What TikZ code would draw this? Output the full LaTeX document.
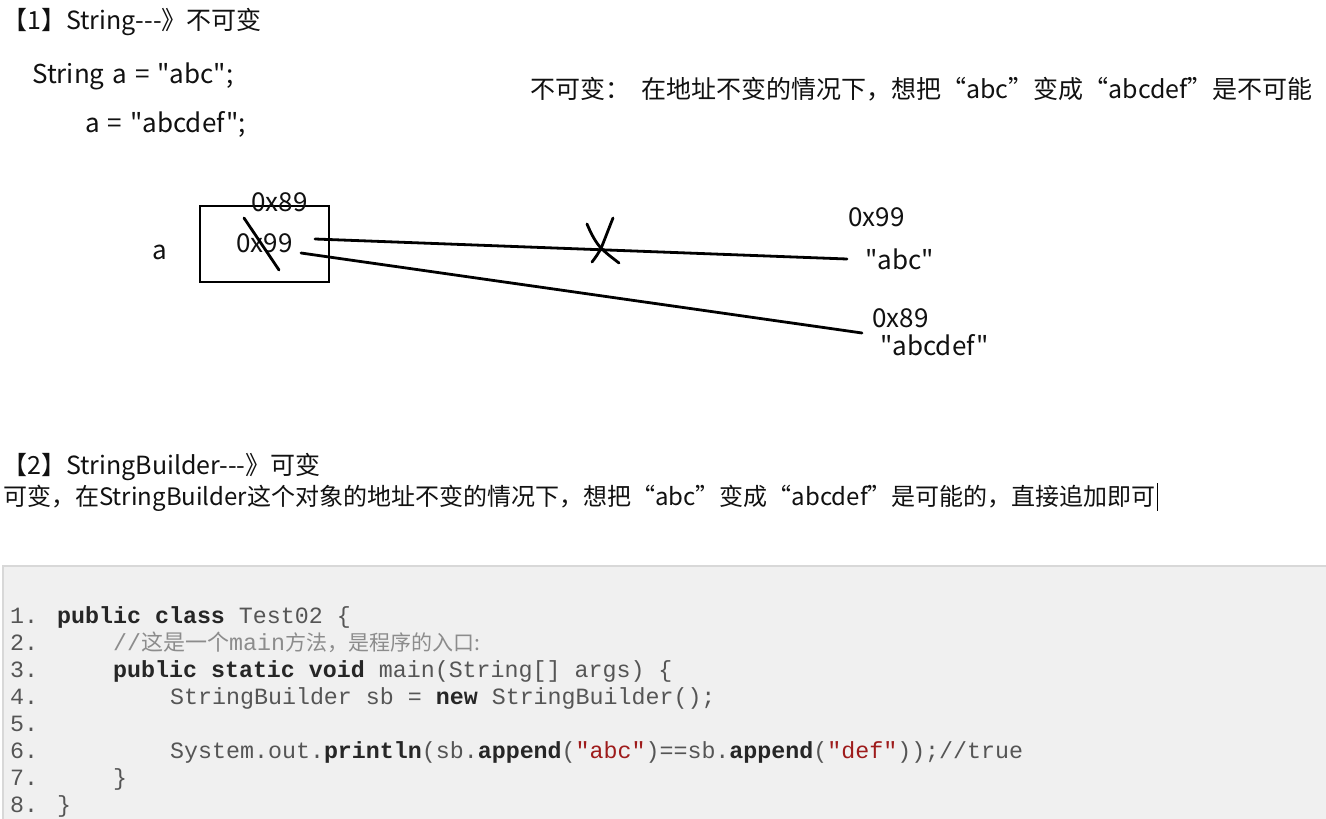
\documentclass[tikz,border=0pt]{standalone}
\usepackage{fontspec}
\newfontfamily\cjk{Noto Sans CJK SC}
\newfontfamily\mono{Liberation Mono}
\definecolor{codebg}{HTML}{F0F0F0}
\definecolor{codeedge}{HTML}{D8D8D8}
\definecolor{codetext}{HTML}{555555}
\definecolor{codebold}{HTML}{262626}
\definecolor{codecomment}{HTML}{8C8C8C}
\definecolor{codestr}{HTML}{9E1B1B}
\definecolor{ink}{HTML}{111111}
\newcommand{\kwd}[1]{{\bfseries\color{codebold}#1}}
\newcommand{\strg}[1]{{\color{codestr}#1}}
\newcommand{\latfont}{\cjk\fontsize{26}{30}\selectfont\spaceskip=8pt\relax}
\begin{document}
\begin{tikzpicture}[x=1pt,y=-1pt,
  txt/.style={anchor=base west,inner sep=0pt,font=\cjk\fontsize{24}{28}\selectfont,text=ink},
  big/.style={txt,font=\cjk\fontsize{25}{29}\selectfont},
  lat/.style={txt,font=\latfont},
  code/.style={anchor=base west,inner sep=0pt,font=\mono\fontsize{23.3}{27}\selectfont,text=codetext},
  ln/.style={line width=2.8pt,line cap=round,black}]
\useasboundingbox (0,0) rectangle (1326,819);
\fill[white] (0,0) rectangle (1326,819);
% section 1 text
\node[big] (h1) at (2,29) {【1】String---》不可变};
\node[lat] (s1) at (32,83) {String a = "abc";};
\node[lat] (s2) at (85,132) {a = "abcdef";};
\node[big] (note) at (530,98) {不可变：\hspace{11pt}在地址不变的情况下，想把“abc”变成“abcdef”是不可能};
% box
\draw[line width=2.8pt] (200,206) rectangle (329,282);
\node[lat] (addrA) at (251,211) {0x89};
\node[lat] (addrB) at (236,252) {0x99};
\node[lat] (va) at (152,259) {a};
\coordinate (s1a) at (244,218);
\coordinate (s1b) at (279,270);
\draw[ln] (s1a) -- (s1b);
% references
\coordinate (r1a) at (315,239);
\coordinate (r1b) at (847,259);
\coordinate (r2a) at (301,253);
\coordinate (r2b) at (862,333);
\draw[ln] (r1a) -- (r1b);
\draw[ln] (r2a) -- (r2b);
% X mark
\draw[ln] (587,224) .. controls (592,236) and (597,244) .. (601,248) .. controls (608,255) and (614,259) .. (619,263);
\draw[ln] (613,218) .. controls (609,228) and (606,236) .. (602,246) .. controls (599,253) and (595,258) .. (592,262);
% right labels
\node[lat] (o1) at (848,226) {0x99};
\node[lat] (o2) at (865,269) {"abc"};
\node[lat] (o3) at (872,327) {0x89};
\node[lat] (o4) at (880,355) {"abcdef"};
% section 2
\node[big] (h2) at (2,474) {【2】StringBuilder---》可变};
\node[txt] (t2) at (3,505) {可变，在StringBuilder这个对象的地址不变的情况下，想把“abc”变成“abcdef”是可能的，直接追加即可};
\draw[black,line width=1pt] (1157,483) -- (1157,511);
% code box
\fill[codebg] (3,566) rectangle (1326,819);
\draw[codeedge,line width=2pt] (3,819) -- (3,566) -- (1326,566);
% line numbers
\foreach \i/\y in {1/623,2/650,3/677,4/704,5/731,6/758,7/785,8/812}{
  \node[code] (n\i) at (10,\y) {\i.};
}
\node[code] (c1) at (57,623) {\kwd{public} \kwd{class} Test02 \{};
\node[code,text=codecomment] (c2) at (113,650) {//{\cjk\fontsize{22}{27}\selectfont 这是一个}main{\cjk\fontsize{21}{27}\selectfont 方法，是程序的入口:}};
\node[code] (c3) at (113,677) {\kwd{public} \kwd{static} \kwd{void} main(String[] args) \{};
\node[code] (c4) at (170,704) {StringBuilder sb = \kwd{new} StringBuilder();};
\node[code] (c6) at (170,758) {System.out.\kwd{println}(sb.\kwd{append}(\strg{"abc"})==sb.\kwd{append}(\strg{"def"}));//true};
\node[code] (c7) at (113,785) {\}};
\node[code] (c8) at (57,812) {\}};
\end{tikzpicture}
\end{document}
